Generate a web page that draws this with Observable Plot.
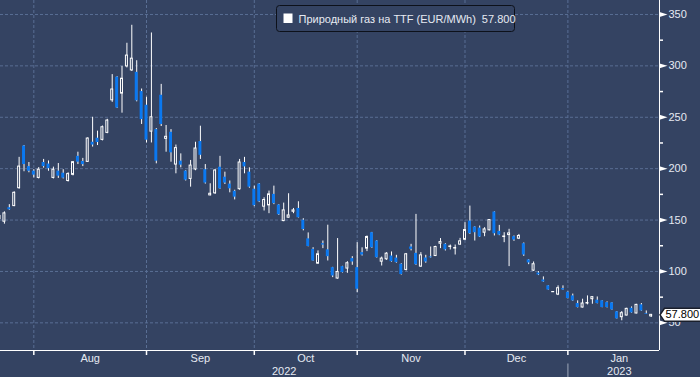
<!DOCTYPE html>
<html><head><meta charset="utf-8">
<script src="https://cdn.jsdelivr.net/npm/d3@7"></script>
<script src="https://cdn.jsdelivr.net/npm/@observablehq/plot@0.6"></script>
<style>
html,body{margin:0;padding:0;background:#344362;}
#chart{width:700px;height:377px;overflow:hidden;}
</style></head><body><div id="chart"></div>
<script>
// Daily OHLC, TTF natural gas (EUR/MWh), trading days from late Jul 2022 to Jan 2023
const open  = [151,148.4,162,163.6,181,222,202, 197.6,191,206,204.5,191,197.6,195.6,188,194,212,207,206.6,225.7,229.6,228,234.8,266.5,289,273,299.5,295.6,293.7,275, 261.7,236,238,271.4,229,235.4,204,207.3,197.6,190,199.2,226.4,199,174,176,201.4,191.7,185,178,180,206,196.6, 180,185,163,164.3,175,164.6,149,152.3,158.1,161.3,149.8,131.7,121.5,107.6,127,121,103.7,93.1,104.7,102.8,112.5, 103.7,118.3,122.2,137.7,129.6,109.5,111.8,115,113,107,101.5,123.8,117.6,104.7,113.1,114.2,115,127,126.4,123.8,122.3,126.1, 130.9,149,143.2,142.2,137.7,140,157.8,139,133.5,135.4,133.8,131.9,127,111.2,100.8,98.5,91.7,86,79.8,77.5,83.3, 79.8,76.2,68.8,64.9,68.8,73,72,71.4,69.7,69.4,60.7,55.5,57.1,64.2,59.1,67.5,59.1,56.3];
const high  = [156,158,165,177.5,211,222.5,206, 199,201,209,207.5,201.5,205,199,196,207,216,210,230,250,236.5,241.5,248,291.5,289.5,299.5,322,339.5,305,277.5, 269.5,332,239,282,242,238,223,214.4,198,208,225.7,241.3,204,185.3,199.2,212,196.6,188,179,209,211,200.8, 183,185.5,171.7,178.2,183,165,166.5,175.6,161.3,167.8,151.3,137.5,123.1,120,129.6,145,104,132,105,109.5,114.4, 128,123,134.5,138,130,114,118.3,119,115.7,107.5,117.5,126.4,155.5,118.3,115.7,123.8,124.5,132,127,125.7,125.7,132.2, 147.4,163.6,143.5,144.2,142.6,150.5,158,144.8,137.7,141,134.5,136,127.7,111.5,109.2,99.8,94.7,86.2,80.2,86,86, 80.2,78,71.4,73,76.2,75.2,75.2,71.6,70.4,69.6,61,61,64.2,65.5,68,68.8,61.6,58];
const low   = [149,146,159.5,163,180,197,196, 191,190,200.5,197.5,190,190.5,190,187,193,204,202,206,221,222.5,227,234,264.5,258.5,254,298,294.5,265,243, 225,225,204.7,241,216,206.3,195,200.8,188,182,198,209,185,173.5,175,180,184.6,176.5,169.6,179,195,181, 163,167,158.8,156.2,165,154.5,148.4,152,156.2,152,139.5,124,110,107,122.2,110.2,94,92.5,98.5,98.2,106, 79.4,115,119.3,122.5,113,105.3,110.8,109,108,96.5,100.5,120,106,104,108,113,114.5,122.2,119.9,120.9,116,125.5, 130,136,129.6,133,133.8,139.5,134.5,134.8,128,104.7,129.3,131,114.7,106.6,100,96,89.5,81.8,79.5,76.5,81.8, 73.3,71,64.5,64.5,67.5,68.1,68.5,64.7,64.5,62.3,53.7,52,56.8,59.4,58.8,61.3,58.2,55.2];
const close = [154,156.5,160,176.5,202,204,197.5, 193.7,199,202,200,199,192.7,190.8,194.7,206.3,206.3,204,229.3,223,225.4,240.3,246.8,277,259,287.5,310,307,266,247.7, 227.7,250,207.3,243,231,215.4,220,203.4,188.8,203,219.6,213,186,175.6,198.2,180.4,186,180.4,172.3,206,201.7,182, 164,167.8,169.5,175,166,155.2,159.4,154.5,159.4,152.3,140.8,124.3,110.2,116.7,125.7,114.4,95.6,99.5,98.9,108,109.2, 82.7,116,133.5,123.1,113.4,112.5,117.3,109.5,108.6,97,116.7,121.5,106.6,115.7,109.2,113.3,123.8,128.6,121,124.3,122.8,129.3, 140.3,136.7,137.7,133.5,140.9,150,136.7,135.4,134,137,130.6,134.5,116,108.3,107,96.6,89.8,82,80,83.7,82, 73.6,71.4,64.9,68.8,69.3,75,68.8,64.9,64.9,62.6,53.9,59.4,63.6,59.7,67.5,61.6,58.4,57.8];

const months = ["Jul","Aug","Sep","Oct","Nov","Dec","Jan"];
const monthBars = [7,23,22,21,22,21,18];   // trading days shown in each month
const janTotalBars = 21;                    // full Jan 2023 length (to centre the Jan label)
const years = ["2022","2023"];
const yTicks = [50,100,150,200,250,300,350];
const yMinorTicks = [75,125,175,225,275,325];
const seriesName = "Природный газ на TTF (EUR/MWh)";
const lastLabel = "57.800";

const bg = "#344362", grid = "#596e94", blue = "#0a78f0", txt = "#e6eaf2";
const xMin = 0.2, xMax = 134.7, yMin = 23.1, yMax = 363.6;

const data = open.map((o, i) => ({i, o, h: high[i], l: low[i], c: close[i], up: close[i] >= o}));
const starts = []; let acc = 0;
for (const n of monthBars) { starts.push(acc); acc += n; }
const janStart = starts[6];
const nextStarts = starts.slice(1).concat(janStart + janTotalBars);
const monthStarts = starts.slice(1);
const monthLabels = months.map((m, k) => ({name: m, x: (starts[k] + nextStarts[k]) / 2})).filter(d => d.x > xMin + 5);
const yearLabels = [{name: years[0], x: (xMin + janStart) / 2}, {name: years[1], x: (janStart + nextStarts[6]) / 2}];
const lastClose = close[close.length - 1];

const rightTri = {draw(ctx, size) { const r = Math.sqrt(size / Math.PI); ctx.moveTo(-r, -r * 0.6); ctx.lineTo(r, 0); ctx.lineTo(-r, r * 0.6); ctx.closePath(); }};
const hTick = {draw(ctx) { ctx.moveTo(0, 0); ctx.lineTo(3.5, 0); }};
const vTick = {draw(ctx) { ctx.moveTo(0, 0); ctx.lineTo(0, 4.5); }};
const sepLine = {draw(ctx) { ctx.moveTo(0, 13); ctx.lineTo(0, 27); }};
const priceTag = {draw(ctx) { ctx.moveTo(0, 0); ctx.lineTo(4.5, -6.5); ctx.lineTo(46, -6.5); ctx.lineTo(46, 6.5); ctx.lineTo(4.5, 6.5); ctx.closePath(); }};

const chart = Plot.plot({
  width: 700, height: 377,
  marginLeft: 0, marginRight: 41, marginTop: 0, marginBottom: 27,
  style: {background: bg, color: txt, fontFamily: "'Liberation Sans', Arial, sans-serif", fontSize: "11px"},
  x: {domain: [xMin, xMax], axis: null},
  y: {domain: [yMin, yMax], axis: null},
  marks: [
    Plot.ruleY(yTicks, {stroke: grid, strokeDasharray: "3,2"}),
    Plot.ruleX(monthStarts, {stroke: grid, strokeDasharray: "3,2"}),
    Plot.ruleX(data, {x: "i", y1: "l", y2: "h", stroke: "#fff", strokeWidth: 1, clip: true}),
    Plot.rect(data.filter(d => !d.up), {x1: d => d.i - 0.3, x2: d => d.i + 0.3, y1: "o", y2: "c", fill: blue, clip: true}),
    Plot.rect(data.filter(d => d.up), {x1: d => d.i - 0.2, x2: d => d.i + 0.2, y1: "o", y2: "c", fill: bg, stroke: "#fff", strokeWidth: 1, clip: true}),
    Plot.ruleY([yMin], {stroke: "#fff"}),
    Plot.ruleX([xMax], {stroke: "#fff"}),
    Plot.dot(yTicks, {x: () => xMax, y: d => d, symbol: rightTri, r: 4, dx: 4, fill: "#fff", stroke: "none"}),
    Plot.dot(yMinorTicks, {x: () => xMax, y: d => d, symbol: hTick, r: 1, stroke: "#fff", fill: "none"}),
    Plot.text(yTicks, {x: () => xMax, y: d => d, text: d => String(d), dx: 9, textAnchor: "start", fill: txt}),
    Plot.dot(monthStarts, {x: d => d, y: () => yMin, symbol: vTick, r: 1, stroke: "#fff", fill: "none"}),
    Plot.text(monthLabels, {x: "x", y: () => yMin, text: "name", dy: 8, lineAnchor: "middle", fill: txt}),
    Plot.text(yearLabels, {x: "x", y: () => yMin, text: "name", dy: 21, lineAnchor: "middle", fill: txt}),
    Plot.dot([janStart], {x: d => d, y: () => yMin, symbol: sepLine, r: 1, stroke: "#7b869c", fill: "none"}),
    Plot.dot([lastClose], {x: () => xMax, y: d => d, symbol: priceTag, r: 1, dx: 0.5, fill: "#fff", stroke: "#1a1f2b"}),
    Plot.text([lastClose], {x: () => xMax, y: d => d, text: () => lastLabel, dx: 6, textAnchor: "start", fill: "#000"})
  ]
});

// Legend box drawn inside the plot area
const svg = d3.select(chart);
const lg = svg.append("g").attr("text-anchor", "start");
lg.append("rect").attr("x", 276.5).attr("y", 5.5).attr("width", 238).attr("height", 26).attr("rx", 3)
  .attr("fill", bg).attr("stroke", "#0d111a");
lg.append("rect").attr("x", 283.5).attr("y", 13.5).attr("width", 9).attr("height", 9.5).attr("fill", "#fff");
const lt = lg.append("text").attr("x", 298.5).attr("y", 22.5).attr("fill", txt).attr("text-anchor", "start")
  .style("font-family", "'Liberation Sans', Arial, sans-serif").style("font-size", "11px");
lt.append("tspan").text(seriesName);
lt.append("tspan").attr("dx", 6).text(lastLabel);

document.getElementById("chart").appendChild(chart);
</script></body></html>
